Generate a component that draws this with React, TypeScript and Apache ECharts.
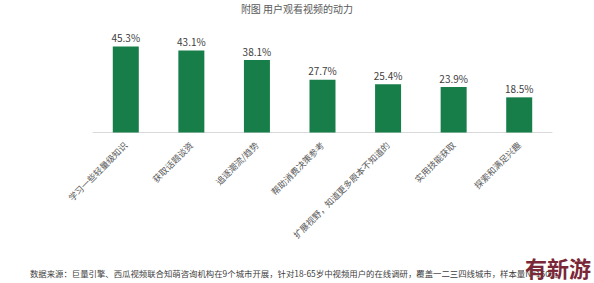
import React, { useEffect, useRef } from "react";
import * as echarts from "echarts";

const categories = [
  "学习一些轻量级知识",
  "获取话题谈资",
  "追逐潮流/趋势",
  "帮助消费决策参考",
  "扩展视野，知道更多原本不知道的",
  "实用技能获取",
  "探索和满足兴趣",
];
const values = [45.3, 43.1, 38.1, 27.7, 25.4, 23.9, 18.5];
const titleText = "附图 用户观看视频的动力";
const sourceText =
  "数据来源：巨量引擎、西瓜视频联合知萌咨询机构在9个城市开展，针对18-65岁中视频用户的在线调研，覆盖一二三四线城市，样本量N=1500。";
const watermark = "有新游";

const FONT = "'Noto Sans CJK SC', 'Noto Sans', sans-serif";

export default function App() {
  const ref = useRef<HTMLDivElement>(null);
  useEffect(() => {
    if (!ref.current) return;
    const chart = echarts.init(ref.current, null, { renderer: "svg" });
    chart.setOption({
      animation: false,
      backgroundColor: "#ffffff",
      textStyle: { fontFamily: FONT },
      title: {
        text: titleText,
        left: 297,
        textAlign: "center",
        top: 3,
        padding: 0,
        textStyle: { fontSize: 10, fontWeight: "normal", color: "#595959", fontFamily: FONT },
      },
      grid: { left: 93, top: 37.5, width: 459, height: 95, containLabel: false },
      xAxis: {
        type: "category",
        data: categories,
        axisLine: { lineStyle: { color: "#d9d9d9", width: 1 } },
        axisTick: { show: false },
        axisLabel: {
          rotate: 45,
          interval: 0,
          fontSize: 8.8,
          color: "#595959",
          margin: 11,
          fontFamily: FONT,
        },
      },
      yAxis: {
        type: "value",
        min: 0,
        max: 50,
        show: false,
        splitLine: { show: false },
      },
      series: [
        {
          type: "bar",
          data: values,
          barWidth: 26,
          itemStyle: { color: "#177e49" },
          label: {
            show: true,
            position: "top",
            distance: 4,
            formatter: (p: any) => p.value.toFixed(1) + "%",
            fontSize: 10,
            color: "#404040",
            fontFamily: FONT,
          },
        },
      ],
      graphic: [
        {
          type: "text",
          left: 30,
          top: 269,
          style: { text: sourceText, fontSize: 8.4, fill: "#404040", fontFamily: FONT },
        },
        {
          type: "text",
          left: 525,
          top: 256,
          style: {
            text: watermark,
            fontSize: 22,
            fontWeight: "bold",
            fill: "#7a2738",
            fontFamily: FONT,
          },
        },
      ],
    });
    return () => chart.dispose();
  }, []);
  return (
    <div
      ref={ref}
      style={{ position: "fixed", left: 0, top: 0, width: 594, height: 283 }}
    />
  );
}
